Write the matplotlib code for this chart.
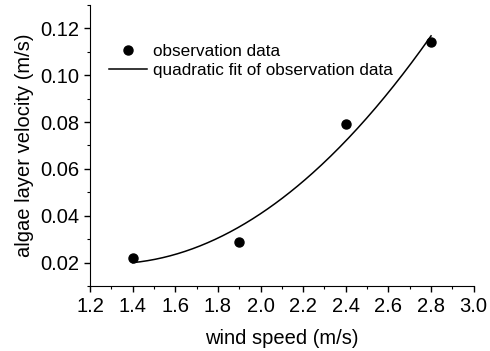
import matplotlib
matplotlib.use('Agg')
import matplotlib.pyplot as plt
from matplotlib.ticker import MultipleLocator
import numpy as np

# observation data
wind_speed = [1.4, 1.9, 2.4, 2.8]
algae_velocity = [0.022, 0.029, 0.079, 0.114]

plt.rcParams['font.family'] = ['Liberation Sans', 'DejaVu Sans']

fig = plt.figure(figsize=(4.9, 3.51), dpi=100)
ax = fig.add_axes([0.1837, 0.185, 0.783, 0.801])

coef = np.polyfit(wind_speed, algae_velocity, 2)
xs = np.linspace(min(wind_speed), max(wind_speed), 200)

ax.plot(wind_speed, algae_velocity, 'o', color='black', markersize=6.5, label='observation data')
ax.plot(xs, np.polyval(coef, xs), '-', color='black', linewidth=1.1,
        label='quadratic fit of observation data')

ax.set_xlim(1.2, 3.0)
ax.set_ylim(0.01, 0.13)
ax.xaxis.set_major_locator(MultipleLocator(0.2))
ax.xaxis.set_minor_locator(MultipleLocator(0.1))
ax.yaxis.set_major_locator(MultipleLocator(0.02))
ax.yaxis.set_minor_locator(MultipleLocator(0.01))
ax.xaxis.set_major_formatter(plt.FormatStrFormatter('%.1f'))
ax.yaxis.set_major_formatter(plt.FormatStrFormatter('%.2f'))

for s in ['top', 'right']:
    ax.spines[s].set_visible(False)
ax.tick_params(which='major', direction='out', length=4, width=1, labelsize=14.5, pad=4)
ax.tick_params(which='minor', direction='out', length=2.5, width=0.8)

ax.set_xlabel('wind speed (m/s)', fontsize=14.5, labelpad=9)
ax.set_ylabel('algae layer velocity (m/s)', fontsize=14.5, labelpad=4)

ax.legend(loc='upper left', bbox_to_anchor=(109 / 490, 1 - 44 / 351), bbox_transform=fig.transFigure,
          frameon=False, fontsize=12.3, handlelength=2.2, handletextpad=0.4,
          labelspacing=0.25, borderpad=0, borderaxespad=0)

fig.savefig('out.png', dpi=100)
